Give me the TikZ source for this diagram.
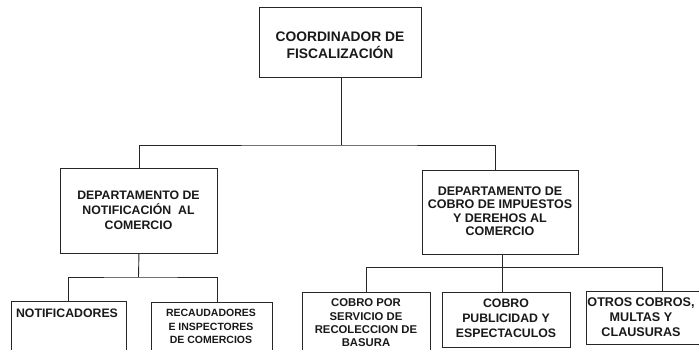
\documentclass[tikz,border=0pt]{standalone}
\usepackage{fontspec}
\setmainfont{Liberation Sans}
\begin{document}
\begin{tikzpicture}[x=1pt,y=-1pt,
  box/.style={draw=black!85,line width=0.9pt,rectangle,inner sep=0pt,anchor=north west,fill=white},
  lbl/.style={align=center,font=\bfseries,inner sep=0pt,text=black!90},
  wire/.style={draw=black!85,line width=0.9pt}]
\useasboundingbox (0,0) rectangle (699,350);
\begin{scope}
\clip (0,0) rectangle (699,350);
% boxes
\node[box,minimum width=162,minimum height=70] (coord) at (259,7) {};
\node[box,minimum width=157,minimum height=84] (dnot) at (60,168.5) {};
\node[box,minimum width=156,minimum height=84] (dcob) at (422,170) {};
\node[box,minimum width=115,minimum height=60] (notif) at (11,301) {};
\node[box,minimum width=121,minimum height=60] (recau) at (151,302) {};
\node[box,minimum width=128,minimum height=70] (cbas) at (302,292) {};
\node[box,minimum width=128,minimum height=55] (cpub) at (442,292) {};
\node[box,minimum width=120,minimum height=53] (otros) at (586,291) {};
% labels
\node[lbl,font=\bfseries\fontsize{13.8}{16.7}\selectfont] (tcoord) at (340,45) {COORDINADOR DE\\FISCALIZACIÓN};
\node[lbl,font=\bfseries\fontsize{12.3}{15}\selectfont] (tdnot) at (138.5,210) {DEPARTAMENTO DE\\NOTIFICACIÓN\ \ AL\\COMERCIO};
\node[lbl,font=\bfseries\fontsize{12.5}{13.5}\selectfont] (tdcob) at (500,211) {DEPARTAMENTO DE\\COBRO DE IMPUESTOS\\Y DEREHOS AL\\COMERCIO};
\node[lbl,font=\bfseries\fontsize{12.3}{14}\selectfont] (tnotif) at (67,313) {NOTIFICADORES};
\node[lbl,font=\bfseries\fontsize{10.5}{13.5}\selectfont] (trecau) at (211,326.5) {RECAUDADORES\\E INSPECTORES\\DE COMERCIOS};
\node[lbl,font=\bfseries\fontsize{11.3}{13.4}\selectfont] (tcbas) at (366,323) {COBRO POR\\SERVICIO DE\\RECOLECCION DE\\BASURA};
\node[lbl,font=\bfseries\fontsize{12.3}{15}\selectfont] (tcpub) at (506,318) {COBRO\\PUBLICIDAD Y\\ESPECTACULOS};
\node[lbl,font=\bfseries\fontsize{12.6}{15}\selectfont] (totros) at (641,317) {OTROS COBROS,\\MULTAS Y\\CLAUSURAS};
% connectors
\coordinate (j1) at (341,145);
\coordinate (j2) at (138.5,277);
\coordinate (j3) at (502,267.5);
\draw[wire] (coord.south -| j1) -- (j1);
\draw[wire] (dnot.north) |- (j1) -| (dcob.north -| 495,0);
\draw[wire] (dnot.south) -- (j2);
\draw[wire] (notif.north -| 68,0) |- (j2) -| (recau.north -| 217,0);
\draw[wire] (dcob.south -| j3) -- (j3);
\draw[wire] (cbas.north -| 366,0) |- (j3) -| (otros.north -| 662.5,0);
\draw[wire] (cpub.north -| j3) -- (j3);
\end{scope}
\end{tikzpicture}
\end{document}
